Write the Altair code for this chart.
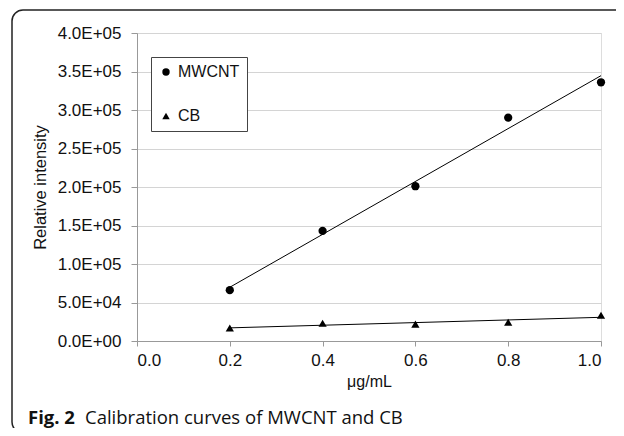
import altair as alt
import pandas as pd

# ---- data ----
conc = [0.2, 0.4, 0.6, 0.8, 1.0]
mwcnt = [66000, 143000, 201000, 290000, 336000]
cb = [16900, 23000, 22000, 24300, 33400]
series_names = ["MWCNT", "CB"]
x_ticks = [0.0, 0.2, 0.4, 0.6, 0.8, 1.0]
y_ticks = [0, 50000, 100000, 150000, 200000, 250000, 300000, 350000, 400000]
x_title = "μg/mL"
y_title = "Relative intensity"
caption_bold = "Fig. 2"
caption_rest = "Calibration curves of MWCNT and CB"

rows = []
for c, v in zip(conc, mwcnt):
    rows.append({"x": c, "y": v, "series": series_names[0]})
for c, v in zip(conc, cb):
    rows.append({"x": c, "y": v, "series": series_names[1]})
df = pd.DataFrame(rows)

AX = "Liberation Sans"

x_axis = alt.Axis(
    values=x_ticks, format=".1f", title=x_title, grid=False, labelOverlap=False,
    labelFont=AX, labelFontSize=17, labelColor="#111", labelPadding=6,
    titleFont=AX, titleFontSize=16, titleFontWeight="normal", titleColor="#111",
    titlePadding=5, tickSize=5, tickColor="#999", domainColor="#999",
)
y_axis = alt.Axis(
    values=y_ticks, labelOverlap=False,
    labelExpr="replace(replace(format(datum.value, '.1e'), 'e+', 'E+0'), 'e-', 'E-0')",
    title=y_title, grid=True, gridColor="#d4d4d4", gridWidth=1.2,
    labelFont=AX, labelFontSize=17, labelColor="#111", labelPadding=10,
    titleFont=AX, titleFontSize=16.5, titleFontWeight="normal", titleColor="#111",
    titlePadding=9, tickSize=6, tickColor="#999", domainColor="#999",
)
x_scale = alt.Scale(domain=[0, 1], nice=False, zero=False)
y_scale = alt.Scale(domain=[0, 400000], nice=False)

base = alt.Chart(df)

lines = base.transform_regression("x", "y", groupby=["series"]).mark_line(
    color="black", strokeWidth=1
).encode(
    x=alt.X("x:Q", scale=x_scale, axis=x_axis),
    y=alt.Y("y:Q", scale=y_scale, axis=y_axis),
    detail="series:N",
)

points = base.mark_point(filled=True, opacity=1, color="black", size=68).encode(
    x=alt.X("x:Q", scale=x_scale, axis=x_axis),
    y=alt.Y("y:Q", scale=y_scale, axis=y_axis),
    shape=alt.Shape(
        "series:N",
        scale=alt.Scale(domain=series_names, range=["circle", "triangle-up"]),
        sort=series_names,
        legend=alt.Legend(
            title=None, orient="none", legendX=14, legendY=24,
            labelFont=AX, labelFontSize=16, labelColor="#111", labelOffset=4,
            symbolSize=55, symbolFillColor="black", symbolStrokeColor="black",
            rowPadding=28, padding=7, strokeColor="#444", fillColor="white",
        ),
    ),
)

frame = alt.Chart(alt.InlineData(values=[{}])).mark_rect(
    fillOpacity=0, stroke="#222", strokeWidth=1.5, cornerRadius=11, clip=False
).encode(
    x=alt.value(-125), x2=alt.value(520), y=alt.value(-23), y2=alt.value(400)
)

cap1 = alt.Chart(alt.InlineData(values=[{}])).mark_text(
    text=caption_bold, font="Open Sans", fontWeight="bold", fontSize=18.5,
    align="left", baseline="alphabetic", color="#111"
).encode(x=alt.value(-109), y=alt.value(391))

cap2 = alt.Chart(alt.InlineData(values=[{}])).mark_text(
    text=caption_rest, font="Open Sans", fontSize=18.5,
    align="left", baseline="alphabetic", color="#111"
).encode(x=alt.value(-52), y=alt.value(391))

chart = alt.layer(frame, lines, points, cap1, cap2).properties(
    width=464, height=308,
    autosize=alt.AutoSizeParams(type="none"),
    padding={"left": 129, "top": 25, "right": 15, "bottom": 87},
).configure_view(stroke="#444", strokeWidth=1.5).configure(background="white")

chart.save("out.html", embed_options={"renderer": "svg", "actions": False})
